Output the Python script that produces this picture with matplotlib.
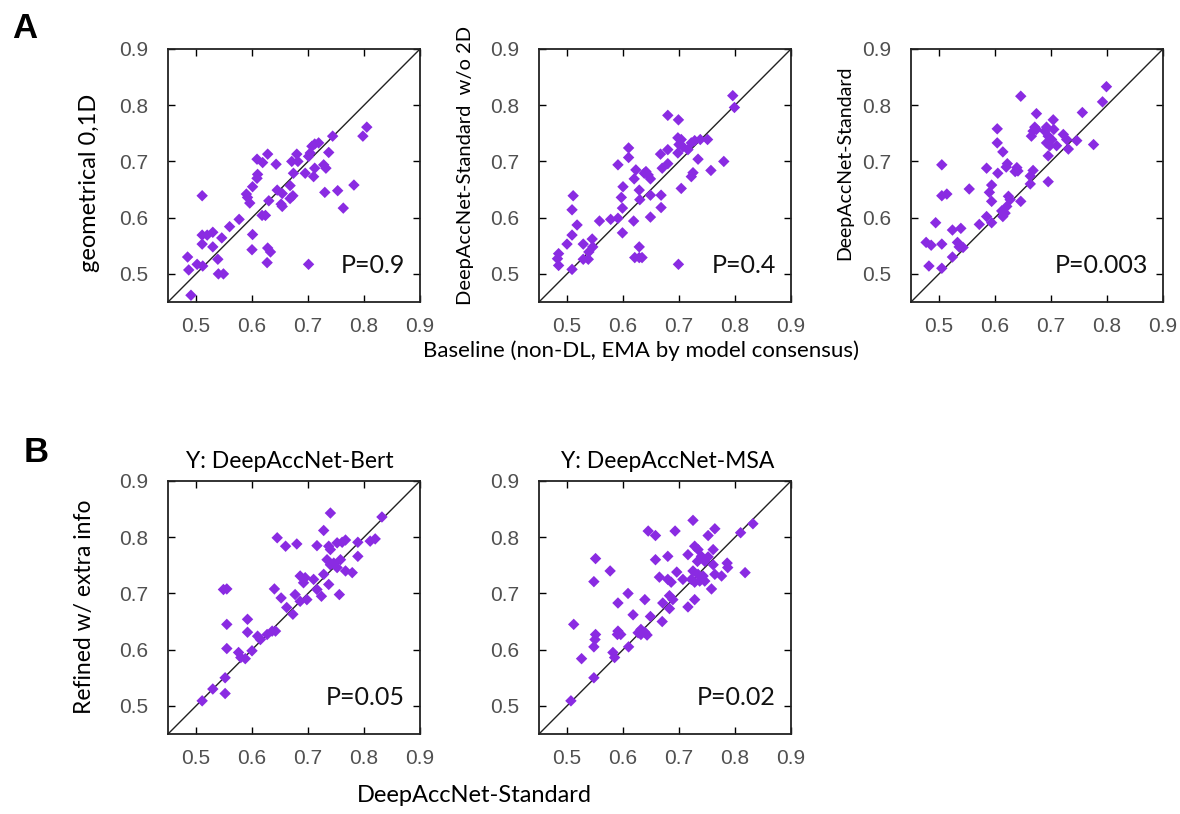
import matplotlib
matplotlib.use('Agg')
import matplotlib.pyplot as plt

# A: baseline (x) vs each method (y)
a1_x = [0.805, 0.798, 0.744, 0.737, 0.712, 0.719, 0.707, 0.704, 0.701, 0.680, 0.671, 0.682,
        0.628, 0.609, 0.619, 0.643, 0.610, 0.609, 0.728, 0.732, 0.712, 0.695, 0.674, 0.710,
        0.782, 0.753, 0.730, 0.668, 0.645, 0.654, 0.673, 0.668, 0.630, 0.652, 0.654, 0.763,
        0.601, 0.590, 0.592, 0.596, 0.618, 0.624, 0.577, 0.560, 0.511, 0.511, 0.520, 0.530,
        0.511, 0.530, 0.546, 0.601, 0.600, 0.628, 0.633, 0.627, 0.701, 0.485, 0.487, 0.502,
        0.512, 0.539, 0.540, 0.549, 0.491]
a1_y = [0.761, 0.745, 0.745, 0.716, 0.731, 0.733, 0.727, 0.715, 0.709, 0.713, 0.700, 0.700,
        0.713, 0.704, 0.698, 0.695, 0.677, 0.670, 0.694, 0.688, 0.688, 0.679, 0.679, 0.673,
        0.658, 0.648, 0.645, 0.657, 0.649, 0.643, 0.639, 0.634, 0.630, 0.624, 0.620, 0.617,
        0.655, 0.642, 0.636, 0.626, 0.604, 0.604, 0.597, 0.584, 0.639, 0.569, 0.569, 0.574,
        0.553, 0.548, 0.564, 0.570, 0.543, 0.546, 0.539, 0.520, 0.517, 0.530, 0.507, 0.517,
        0.514, 0.526, 0.500, 0.500, 0.462]

a2_x = [0.796, 0.799, 0.680, 0.699, 0.698, 0.704, 0.700, 0.707, 0.716, 0.728, 0.738, 0.751,
        0.722, 0.698, 0.680, 0.667, 0.734, 0.780, 0.757, 0.725, 0.722, 0.680, 0.670, 0.610,
        0.610, 0.591, 0.623, 0.638, 0.645, 0.641, 0.649, 0.620, 0.600, 0.629, 0.597, 0.630,
        0.649, 0.668, 0.668, 0.704, 0.599, 0.649, 0.619, 0.591, 0.578, 0.558, 0.599, 0.511,
        0.509, 0.518, 0.509, 0.500, 0.529, 0.545, 0.546, 0.539, 0.529, 0.538, 0.629, 0.629,
        0.621, 0.634, 0.485, 0.483, 0.485, 0.509, 0.699]
a2_y = [0.817, 0.796, 0.782, 0.774, 0.742, 0.739, 0.730, 0.726, 0.721, 0.737, 0.739, 0.739,
        0.733, 0.715, 0.721, 0.713, 0.704, 0.700, 0.684, 0.680, 0.673, 0.696, 0.688, 0.724,
        0.707, 0.694, 0.685, 0.679, 0.676, 0.682, 0.669, 0.669, 0.655, 0.649, 0.636, 0.632,
        0.640, 0.640, 0.618, 0.652, 0.617, 0.601, 0.594, 0.599, 0.597, 0.594, 0.573, 0.639,
        0.614, 0.587, 0.569, 0.553, 0.553, 0.562, 0.548, 0.539, 0.526, 0.526, 0.548, 0.529,
        0.529, 0.529, 0.536, 0.527, 0.515, 0.508, 0.517]

a3_x = [0.799, 0.792, 0.646, 0.674, 0.756, 0.704, 0.692, 0.671, 0.674, 0.668, 0.665, 0.689,
        0.705, 0.695, 0.701, 0.692, 0.722, 0.728, 0.746, 0.731, 0.710, 0.698, 0.695, 0.776,
        0.604, 0.604, 0.614, 0.622, 0.620, 0.639, 0.636, 0.641, 0.585, 0.605, 0.668, 0.663,
        0.663, 0.695, 0.505, 0.554, 0.514, 0.505, 0.594, 0.590, 0.594, 0.624, 0.627, 0.621,
        0.612, 0.618, 0.614, 0.646, 0.585, 0.572, 0.594, 0.494, 0.524, 0.539, 0.477, 0.486,
        0.505, 0.533, 0.536, 0.543, 0.524, 0.482, 0.505]
a3_y = [0.833, 0.806, 0.816, 0.785, 0.787, 0.774, 0.761, 0.761, 0.757, 0.754, 0.745, 0.754,
        0.757, 0.745, 0.739, 0.733, 0.748, 0.739, 0.737, 0.722, 0.728, 0.728, 0.710, 0.730,
        0.758, 0.733, 0.717, 0.696, 0.690, 0.689, 0.682, 0.683, 0.688, 0.679, 0.684, 0.674,
        0.660, 0.664, 0.694, 0.651, 0.642, 0.639, 0.658, 0.645, 0.629, 0.638, 0.632, 0.620,
        0.612, 0.608, 0.602, 0.629, 0.602, 0.588, 0.591, 0.591, 0.578, 0.581, 0.556, 0.551,
        0.553, 0.556, 0.548, 0.547, 0.530, 0.514, 0.510]

# B: DeepAccNet-Standard (x) vs refined variants (y)
b1_x = [0.832, 0.740, 0.728, 0.645, 0.660, 0.680, 0.716, 0.737, 0.740, 0.752, 0.761, 0.767,
        0.789, 0.811, 0.820, 0.734, 0.746, 0.758, 0.789, 0.740, 0.752, 0.767, 0.779, 0.728,
        0.686, 0.695, 0.710, 0.692, 0.737, 0.716, 0.724, 0.756, 0.640, 0.652, 0.677, 0.686,
        0.698, 0.662, 0.673, 0.549, 0.555, 0.555, 0.592, 0.592, 0.610, 0.615, 0.627, 0.636,
        0.642, 0.555, 0.576, 0.580, 0.588, 0.600, 0.552, 0.530, 0.552, 0.511]
b1_y = [0.836, 0.843, 0.812, 0.799, 0.784, 0.788, 0.785, 0.784, 0.778, 0.790, 0.791, 0.795,
        0.791, 0.793, 0.797, 0.760, 0.754, 0.760, 0.766, 0.751, 0.746, 0.740, 0.737, 0.734,
        0.731, 0.728, 0.725, 0.719, 0.716, 0.707, 0.695, 0.698, 0.708, 0.692, 0.698, 0.686,
        0.689, 0.675, 0.663, 0.707, 0.708, 0.645, 0.654, 0.631, 0.624, 0.618, 0.627, 0.633,
        0.633, 0.602, 0.595, 0.586, 0.584, 0.598, 0.550, 0.530, 0.522, 0.509]

b2_x = [0.832, 0.810, 0.725, 0.764, 0.752, 0.645, 0.658, 0.693, 0.728, 0.734, 0.761, 0.716,
        0.740, 0.752, 0.680, 0.658, 0.551, 0.733, 0.746, 0.761, 0.786, 0.787, 0.577, 0.548,
        0.665, 0.680, 0.686, 0.696, 0.707, 0.725, 0.734, 0.722, 0.728, 0.737, 0.743, 0.746,
        0.758, 0.764, 0.776, 0.818, 0.609, 0.591, 0.639, 0.683, 0.689, 0.671, 0.728, 0.716,
        0.683, 0.618, 0.649, 0.670, 0.512, 0.551, 0.550, 0.548, 0.591, 0.596, 0.590, 0.632,
        0.627, 0.632, 0.643, 0.639, 0.610, 0.582, 0.585, 0.526, 0.548, 0.507]
b2_y = [0.824, 0.808, 0.830, 0.815, 0.803, 0.811, 0.803, 0.811, 0.784, 0.778, 0.778, 0.769,
        0.766, 0.765, 0.766, 0.760, 0.762, 0.757, 0.757, 0.751, 0.754, 0.746, 0.740, 0.721,
        0.729, 0.725, 0.720, 0.738, 0.725, 0.740, 0.734, 0.725, 0.720, 0.722, 0.731, 0.722,
        0.708, 0.734, 0.731, 0.737, 0.700, 0.683, 0.689, 0.696, 0.689, 0.683, 0.689, 0.676,
        0.673, 0.662, 0.659, 0.650, 0.645, 0.627, 0.618, 0.605, 0.633, 0.627, 0.627, 0.636,
        0.630, 0.627, 0.626, 0.631, 0.605, 0.595, 0.586, 0.584, 0.550, 0.509]

p_values = ['P=0.9', 'P=0.4', 'P=0.003', 'P=0.05', 'P=0.02']
tick_vals = [0.5, 0.6, 0.7, 0.8, 0.9]

W, H = 1180, 814
LABEL_FONT = ['Lato', 'DejaVu Sans']
TICK_FONT = ['Liberation Sans', 'DejaVu Sans']
PURPLE = '#8a2be2'


def add_panel(fig, left, top, xs, ys, ptxt):
    # left/top in pixels, axes are 252x253 px
    ax = fig.add_axes([left / W, (H - top - 253) / H, 252 / W, 253 / H])
    ax.plot([0.45, 0.9], [0.45, 0.9], color='#222222', lw=1.0, zorder=2)
    ax.scatter(xs, ys, marker='D', s=34, color=PURPLE, edgecolors='none', zorder=3)
    ax.set_xlim(0.45, 0.9)
    ax.set_ylim(0.45, 0.9)
    ax.set_xticks(tick_vals)
    ax.set_yticks(tick_vals)
    ax.set_xticklabels([f'{v:.1f}' for v in tick_vals])
    ax.set_yticklabels([f'{v:.1f}' for v in tick_vals])
    ax.tick_params(direction='in', length=5, width=1.0, top=True, right=True,
                   labelsize=15, labelcolor='#505050')
    ax.tick_params(axis='x', pad=11)
    ax.tick_params(axis='y', pad=14)
    for lab in ax.get_xticklabels() + ax.get_yticklabels():
        lab.set_family(TICK_FONT)
    for sp in ax.spines.values():
        sp.set_linewidth(1.3)
        sp.set_color('#222222')
    ax.text(0.94, 0.145, ptxt, transform=ax.transAxes, ha='right', va='center',
            fontsize=18, family=LABEL_FONT, color='#111111')
    return ax


fig = plt.figure(figsize=(W / 100, H / 100), dpi=100)

ax1 = add_panel(fig, 168, 49, a1_x, a1_y, p_values[0])
ax2 = add_panel(fig, 539, 49, a2_x, a2_y, p_values[1])
ax3 = add_panel(fig, 911, 49, a3_x, a3_y, p_values[2])
ax4 = add_panel(fig, 168, 481, b1_x, b1_y, p_values[3])
ax5 = add_panel(fig, 539, 481, b2_x, b2_y, p_values[4])


def fig_text(x, y, s, **kw):
    fig.text(x / W, 1 - y / H, s, **kw)


fig_text(25, 29, 'A', fontsize=25, fontweight='bold', family=TICK_FONT, ha='center', va='center')
fig_text(36, 453, 'B', fontsize=25, fontweight='bold', family=TICK_FONT, ha='center', va='center')

fig_text(90, 183, 'geometrical 0,1D', rotation=90, fontsize=17, family=LABEL_FONT,
         ha='center', va='center')
fig_text(466, 165, 'DeepAccNet-Standard  w/o 2D', rotation=90, fontsize=14.5, family=LABEL_FONT,
         ha='center', va='center')
fig_text(845, 163, 'DeepAccNet-Standard', rotation=90, fontsize=14, family=LABEL_FONT,
         ha='center', va='center')
fig_text(641, 351, 'Baseline (non-DL, EMA by model consensus)', fontsize=16, family=LABEL_FONT,
         ha='center', va='center')

fig_text(290, 462, 'Y: DeepAccNet-Bert', fontsize=16.5, family=LABEL_FONT, ha='center', va='center')
fig_text(668, 462, 'Y: DeepAccNet-MSA', fontsize=16.5, family=LABEL_FONT, ha='center', va='center')
fig_text(85, 607, 'Refined w/ extra info', rotation=90, fontsize=16.5, family=LABEL_FONT,
         ha='center', va='center')
fig_text(474, 795, 'DeepAccNet-Standard', fontsize=17, family=LABEL_FONT, ha='center', va='center')

fig.savefig('out.png', dpi=100)
